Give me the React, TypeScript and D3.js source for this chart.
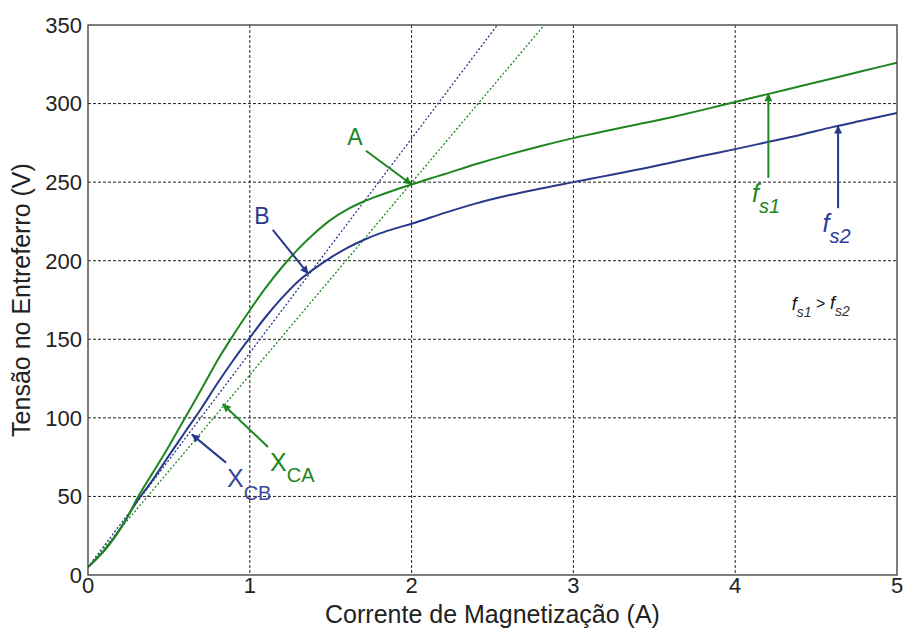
import React from "react";
import * as d3 from "d3";

// Magnetization current (A) vs. air-gap voltage (V) for two supply frequencies
const currentFs1 = [0, 0.05, 0.1, 0.15, 0.2, 0.25, 0.3, 0.4, 0.5, 0.6, 0.7, 0.8, 0.9, 1.0, 1.1, 1.2, 1.3, 1.4, 1.5, 1.6, 1.7, 1.8, 1.9, 2.0, 2.1, 2.2, 2.4, 2.6, 2.8, 3.0, 3.2, 3.4, 3.6, 3.8, 4.0, 4.2, 4.4, 4.6, 4.8, 5.0];
const voltageFs1 = [5, 10, 15.5, 22, 29.5, 38, 48, 65, 82, 100, 118, 136.5, 153, 168.5, 183, 196, 207.5, 217.5, 226, 232.5, 237.5, 241.5, 245.2, 248.5, 251.8, 255, 261.5, 267.5, 273, 278, 282.5, 286.8, 291.2, 296, 301, 306, 311, 316, 321, 326];

const currentFs2 = [0, 0.05, 0.1, 0.15, 0.2, 0.25, 0.3, 0.35, 0.4, 0.5, 0.6, 0.7, 0.8, 0.9, 1.0, 1.1, 1.2, 1.3, 1.4, 1.5, 1.6, 1.7, 1.8, 1.9, 2.0, 2.2, 2.4, 2.6, 2.8, 3.0, 3.2, 3.4, 3.6, 3.8, 4.0, 4.2, 4.4, 4.6, 4.8, 5.0];
const voltageFs2 = [5, 10, 15.5, 22, 29.5, 38, 46.5, 53.5, 60.5, 76, 91, 106, 122, 137, 151, 164.5, 176.5, 187, 195, 202, 208, 213, 217.2, 220.6, 223.5, 230.3, 236.5, 241.6, 246, 250, 254, 258, 262.4, 266.8, 271, 275.5, 280, 285, 289.5, 294];

// Straight reactance lines from the origin through the operating points A and B
const lineXcaCurrent = [0, 2.82];
const lineXcaVoltage = [5, 350];
const lineXcbCurrent = [0, 2.53];
const lineXcbVoltage = [5, 350];

const xTicks = [0, 1, 2, 3, 4, 5];
const yTicks = [0, 50, 100, 150, 200, 250, 300, 350];

const GREEN = "#1e861e";
const BLUE = "#28388a";

type Arrow = { from: [number, number]; to: [number, number]; color: string };
const arrows: Arrow[] = [
  { from: [1.718, 270], to: [2.0, 248.5], color: GREEN },
  { from: [1.142, 219.6], to: [1.362, 191.6], color: BLUE },
  { from: [1.112, 81.5], to: [0.832, 108.8], color: GREEN },
  { from: [0.853, 71.5], to: [0.641, 89.5], color: BLUE },
  { from: [4.205, 252.7], to: [4.205, 306.5], color: GREEN },
  { from: [4.636, 233.4], to: [4.636, 286], color: BLUE },
];

const W = 904;
const H = 630;
const left = 88;
const right = 897;
const top = 25;
const bottom = 575;

export default function App() {
  const x = d3.scaleLinear().domain([0, 5]).range([left, right]);
  const y = d3.scaleLinear().domain([0, 350]).range([bottom, top]);

  const line = d3
    .line<[number, number]>()
    .x((d) => x(d[0]))
    .y((d) => y(d[1]))
    .curve(d3.curveMonotoneX);

  const zip = (a: number[], b: number[]) => a.map((v, i) => [v, b[i]] as [number, number]);

  const font = "'Liberation Sans', Arial, sans-serif";

  return (
    <svg
      width={W}
      height={H}
      style={{ position: "absolute", left: 0, top: 0, background: "#fff" }}
      fontFamily={font}
    >
      <defs>
        {[GREEN, BLUE].map((c, i) => (
          <marker
            key={c}
            id={`head${i}`}
            viewBox="0 0 10 10"
            refX="10"
            refY="5"
            markerWidth="9"
            markerHeight="8"
            markerUnits="userSpaceOnUse"
            orient="auto"
          >
            <path d="M0,0 L10,5 L0,10 z" fill={c} />
          </marker>
        ))}
        <clipPath id="plot">
          <rect x={left} y={top} width={right - left} height={bottom - top} />
        </clipPath>
      </defs>

      {/* grid */}
      {xTicks.slice(1, -1).map((t) => (
        <line key={`gx${t}`} x1={x(t)} x2={x(t)} y1={top} y2={bottom} stroke="#222" strokeWidth={1} strokeDasharray="3,2" />
      ))}
      {yTicks.slice(1, -1).map((t) => (
        <line key={`gy${t}`} x1={left} x2={right} y1={y(t)} y2={y(t)} stroke="#222" strokeWidth={1} strokeDasharray="3,2" />
      ))}

      <g clipPath="url(#plot)">
        {/* reactance lines */}
        <path d={line(zip(lineXcbCurrent, lineXcbVoltage)) || ""} fill="none" stroke={BLUE} strokeWidth={1.3} strokeDasharray="2,2" />
        <path d={line(zip(lineXcaCurrent, lineXcaVoltage)) || ""} fill="none" stroke={GREEN} strokeWidth={1.3} strokeDasharray="2,2" />
        {/* magnetization curves */}
        <path d={line(zip(currentFs2, voltageFs2)) || ""} fill="none" stroke={BLUE} strokeWidth={2} />
        <path d={line(zip(currentFs1, voltageFs1)) || ""} fill="none" stroke={GREEN} strokeWidth={2} />
      </g>

      {/* frame */}
      <rect x={left} y={top} width={right - left} height={bottom - top} fill="none" stroke="#3a3a3a" strokeWidth={1.3} />

      {/* tick labels */}
      {xTicks.map((t) => (
        <text key={`tx${t}`} x={x(t)} y={593} textAnchor="middle" fontSize={22} fill="#222">
          {t}
        </text>
      ))}
      {yTicks.map((t) => (
        <text key={`ty${t}`} x={82} y={y(t)} dy="0.36em" textAnchor="end" fontSize={22} fill="#222">
          {t}
        </text>
      ))}

      {/* axis titles */}
      <text x={(left + right) / 2} y={623} textAnchor="middle" fontSize={25} fill="#222">
        Corrente de Magnetização (A)
      </text>
      <text transform={`translate(30,${(top + bottom) / 2}) rotate(-90)`} textAnchor="middle" fontSize={25} fill="#222">
        Tensão no Entreferro (V)
      </text>

      {/* annotation arrows */}
      {arrows.map((a, i) => (
        <line
          key={`ar${i}`}
          x1={x(a.from[0])}
          y1={y(a.from[1])}
          x2={x(a.to[0])}
          y2={y(a.to[1])}
          stroke={a.color}
          strokeWidth={2}
          markerEnd={`url(#head${a.color === GREEN ? 0 : 1})`}
        />
      ))}

      {/* annotation labels */}
      <text x={x(1.65)} y={y(278.8)} dy="0.36em" textAnchor="middle" fontSize={23} fill={GREEN}>A</text>
      <text x={x(1.075)} y={y(228.5)} dy="0.36em" textAnchor="middle" fontSize={23} fill={BLUE}>B</text>

      <text x={x(1.125)} y={y(65.9)} fontSize={25} fill={GREEN}>
        X<tspan fontSize={20} dy={11}>CA</tspan>
      </text>
      <text x={x(0.859)} y={y(56)} fontSize={25} fill="#3a479c">
        X<tspan fontSize={20} dy={13}>CB</tspan>
      </text>

      <text x={x(4.104)} y={y(237.4)} fontSize={25} fontStyle="italic" fill={GREEN}>
        f<tspan fontSize={20} dy={11}>s1</tspan>
      </text>
      <text x={x(4.54)} y={y(218.3)} fontSize={25} fontStyle="italic" fill="#2c3d99">
        f<tspan fontSize={20} dy={11}>s2</tspan>
      </text>

      <text x={x(4.35)} y={y(168.7)} fontSize={18} fontStyle="italic" fill="#111">
        f<tspan fontSize={14} dy={7} fill="#333">s1</tspan>
        <tspan fontSize={16} dy={-8} fontStyle="normal"> &gt; </tspan>
        <tspan fontSize={18}>f</tspan>
        <tspan fontSize={14} dy={7} fill="#333">s2</tspan>
      </text>
    </svg>
  );
}
